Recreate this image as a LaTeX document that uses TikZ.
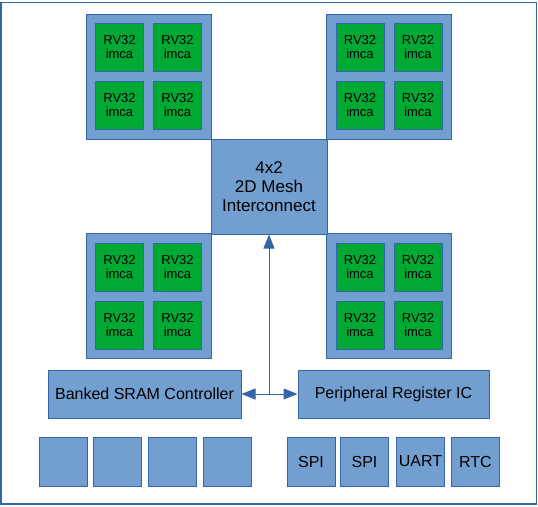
\documentclass[tikz,border=0pt]{standalone}
\usepackage{fontspec}
\setmainfont{Liberation Sans}
\usetikzlibrary{positioning,arrows.meta}
\definecolor{boxblue}{HTML}{729FCF}
\definecolor{bordblue}{HTML}{3465A4}
\definecolor{coregreen}{HTML}{00A933}

\begin{document}
\begin{tikzpicture}[x=1pt,y=-1pt,line width=1pt,
  blk/.style={draw=bordblue,fill=boxblue,inner sep=0pt,align=center,font=\fontsize{16}{19}\selectfont},
  cluster/.style={blk,minimum width=125pt,minimum height=125pt},
  core/.style={draw=bordblue,fill=coregreen,minimum width=48pt,minimum height=48pt,inner sep=0pt,align=center,font=\fontsize{13}{14}\selectfont},
  io/.style={blk,minimum width=48pt,minimum height=49pt},
  bus/.style={draw=bordblue,-{Triangle[length=14pt,width=11pt]}}]
  \useasboundingbox (0,0) rectangle (538,506);
  \draw[bordblue,line width=1.5pt] (0.75,2.5) rectangle (536.5,504);

  \foreach \n/\cx/\cy in {tl/148.5/76.5,tr/389/76.5,bl/148.5/296,br/389/296} {
    \node[cluster] (\n) at (\cx,\cy) {};
    \node[core] (\n1) at (\cx-29,\cy-29) {RV32\\imca};
    \node[core] (\n2) at (\cx+29,\cy-29) {RV32\\imca};
    \node[core] (\n3) at (\cx-29,\cy+29) {RV32\\imca};
    \node[core] (\n4) at (\cx+29,\cy+29) {RV32\\imca};
  }
  \node[blk,minimum width=116pt,minimum height=95pt,font=\fontsize{17}{19}\selectfont] (mesh) at (269,186.5) {4x2\\2D Mesh\\Interconnect};

  \node[blk,minimum width=193pt,minimum height=48pt] (sram) at (144.5,394) {Banked SRAM Controller};
  \node[blk,minimum width=191pt,minimum height=48pt] (periph) at (393.5,394) {Peripheral Register IC};

  \node[io] (bank1) at (63,461.5) {};
  \node[io] (bank2) at (117,461.5) {};
  \node[io] (bank3) at (172.5,461.5) {};
  \node[io] (bank4) at (227,461.5) {};
  \node[io] (spi1) at (311,461.5) {SPI};
  \node[io] (spi2) at (364.5,461.5) {SPI};
  \node[io] (uart) at (420.5,461.5) {UART};
  \node[io] (rtc) at (475.5,461.5) {RTC};

  \coordinate (jn) at (mesh.south |- sram.east);
  \draw[bus,{Triangle[length=14pt,width=11pt]}-{Triangle[length=14pt,width=11pt]}] (sram.east) -- (periph.west);
  \draw[bus] (jn) -- (mesh.south);
\end{tikzpicture}
\end{document}
